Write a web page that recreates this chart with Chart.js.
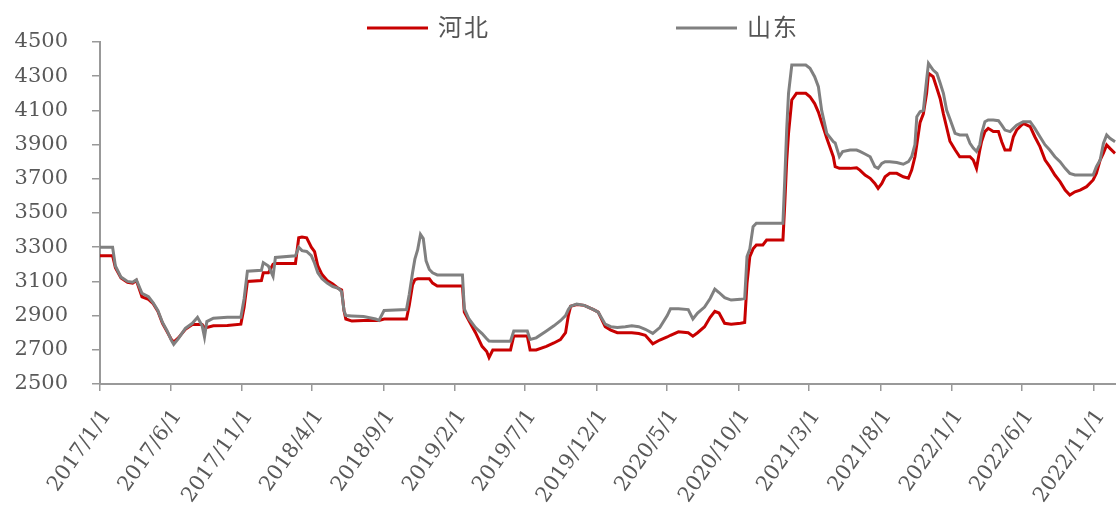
<!DOCTYPE html>
<html>
<head>
<meta charset="utf-8">
<script src="https://cdn.jsdelivr.net/npm/chart.js@4.4.0/dist/chart.umd.min.js"></script>
<style>
  html, body { margin: 0; padding: 0; background: #fff; }
  #wrap { width: 1116px; height: 515px; position: relative; }
</style>
</head>
<body>
<div id="wrap"><canvas id="chart"></canvas></div>
<script>
// price dates (irregular)
const dates = [
  '2017-01-01','2017-01-28','2017-02-03','2017-02-15','2017-03-01','2017-03-12','2017-03-20','2017-04-01','2017-04-15','2017-04-25',
  '2017-05-05','2017-05-15','2017-05-25','2017-06-03','2017-06-08','2017-06-18','2017-07-03','2017-07-18','2017-07-29','2017-08-08',
  '2017-08-13','2017-08-18','2017-09-01','2017-10-01','2017-10-30','2017-11-06','2017-11-13','2017-12-13','2017-12-17','2017-12-28',
  '2018-01-07','2018-01-12','2018-02-24','2018-03-03','2018-03-10','2018-03-20','2018-03-30','2018-04-06','2018-04-13','2018-04-22',
  '2018-05-03','2018-05-15','2018-05-27','2018-06-03','2018-06-08','2018-06-12','2018-06-25','2018-07-20','2018-08-15','2018-08-22',
  '2018-09-02','2018-10-20','2018-10-26','2018-11-02','2018-11-07','2018-11-13','2018-11-19','2018-11-25','2018-12-01','2018-12-08',
  '2018-12-15','2018-12-25','2019-02-17','2019-02-21','2019-03-03','2019-03-17','2019-03-31','2019-04-10','2019-04-15','2019-04-23',
  '2019-05-31','2019-06-07','2019-07-06','2019-07-12','2019-07-25','2019-08-16','2019-09-01','2019-09-15','2019-09-26','2019-10-02',
  '2019-10-07','2019-10-20','2019-11-05','2019-11-25','2019-12-05','2019-12-20','2020-01-01','2020-01-15','2020-02-01','2020-02-15',
  '2020-03-01','2020-03-15','2020-03-31','2020-04-15','2020-05-01','2020-05-08','2020-05-25','2020-06-15','2020-06-25','2020-07-05',
  '2020-07-20','2020-08-01','2020-08-11','2020-08-20','2020-09-01','2020-09-15','2020-10-05','2020-10-14','2020-10-19','2020-10-25',
  '2020-11-01','2020-11-08','2020-11-22','2020-11-30','2021-01-04','2021-01-08','2021-01-12','2021-01-16','2021-01-23','2021-02-02',
  '2021-02-22','2021-03-03','2021-03-13','2021-03-21','2021-03-28','2021-04-08','2021-04-22','2021-04-26','2021-05-05','2021-05-12',
  '2021-05-28','2021-06-11','2021-06-18','2021-06-29','2021-07-10','2021-07-20','2021-07-27','2021-08-04','2021-08-11','2021-08-21',
  '2021-09-05','2021-09-19','2021-09-30','2021-10-07','2021-10-14','2021-10-18','2021-10-25','2021-11-01','2021-11-08','2021-11-12',
  '2021-11-22','2021-11-30','2021-12-07','2021-12-14','2021-12-21','2021-12-28','2022-01-08','2022-01-18','2022-02-02','2022-02-09',
  '2022-02-16','2022-02-23','2022-03-02','2022-03-06','2022-03-13','2022-03-20','2022-03-31','2022-04-11','2022-04-18','2022-04-25',
  '2022-05-06','2022-05-13','2022-05-20','2022-06-03','2022-06-18','2022-06-28','2022-07-09','2022-07-20','2022-07-30','2022-08-10',
  '2022-08-21','2022-09-01','2022-09-11','2022-09-22','2022-10-03','2022-10-17','2022-10-31','2022-11-07','2022-11-15','2022-11-22',
  '2022-11-29','2022-12-06','2022-12-17'
];

// 河北
const hebei = [
  3250,3250,3180,3120,3095,3090,3105,3010,2995,2970,
  2925,2855,2805,2760,2745,2770,2820,2848,2848,2848,
  2830,2830,2840,2842,2850,2950,3100,3105,3150,3150,
  3200,3205,3205,3355,3360,3355,3300,3274,3190,3140,
  3105,3085,3059,3050,2930,2880,2868,2872,2872,2872,
  2880,2880,2960,3080,3110,3115,3115,3115,3115,3115,
  3090,3073,3073,2920,2870,2800,2720,2690,2655,2699,
  2699,2781,2781,2699,2699,2720,2740,2760,2800,2900,
  2955,2965,2960,2935,2920,2835,2815,2800,2800,2800,
  2795,2785,2735,2757,2775,2785,2805,2800,2780,2800,
  2835,2890,2925,2915,2855,2850,2855,2860,3089,3245,
  3290,3313,3313,3342,3342,3556,3800,3966,4161,4200,
  4200,4180,4140,4090,4030,3937,3829,3771,3761,3761,
  3761,3765,3751,3722,3703,3673,3644,3673,3712,3732,
  3732,3712,3703,3751,3829,3900,4030,4080,4200,4317,
  4297,4230,4170,4080,4000,3920,3870,3829,3829,3829,
  3810,3761,3868,3920,3976,3995,3976,3976,3917,3868,
  3868,3946,3985,4024,4005,3946,3888,3810,3771,3722,
  3683,3634,3605,3624,3634,3654,3693,3732,3810,3850,
  3898,3878,3849
];

// 山东
const shandong = [
  3300,3300,3190,3125,3100,3095,3110,3030,3010,2975,
  2930,2860,2810,2755,2732,2765,2825,2855,2890,2840,
  2775,2865,2885,2890,2890,3000,3160,3165,3210,3190,
  3130,3240,3250,3300,3280,3275,3250,3206,3150,3115,
  3090,3070,3059,3040,2930,2900,2898,2895,2880,2872,
  2930,2935,3025,3150,3230,3285,3375,3350,3220,3170,
  3150,3138,3137,2940,2880,2830,2795,2765,2751,2750,
  2750,2810,2810,2760,2770,2810,2840,2870,2900,2935,
  2955,2968,2960,2935,2920,2850,2835,2830,2835,2840,
  2835,2820,2796,2830,2900,2940,2940,2935,2880,2915,
  2950,3000,3055,3035,3005,2991,2995,3000,3245,3290,
  3420,3440,3440,3440,3440,3700,3985,4200,4365,4365,
  4365,4346,4297,4239,4100,3966,3917,3910,3830,3859,
  3868,3868,3860,3845,3829,3771,3761,3790,3800,3800,
  3795,3785,3800,3830,3900,4063,4092,4100,4278,4375,
  4336,4317,4260,4200,4100,4050,3966,3956,3956,3907,
  3880,3860,3900,3966,4034,4044,4044,4040,4014,3985,
  3976,3995,4014,4034,4034,3995,3946,3898,3868,3829,
  3800,3761,3732,3722,3722,3722,3722,3771,3810,3907,
  3956,3937,3917
];

const tickLabels = ['2017/1/1','2017/6/1','2017/11/1','2018/4/1','2018/9/1','2019/2/1','2019/7/1',
  '2019/12/1','2020/5/1','2020/10/1','2021/3/1','2021/8/1','2022/1/1','2022/6/1','2022/11/1'];

function dayOf(s) {
  const p = s.split(/[-\/]/).map(Number);
  return (Date.UTC(p[0], p[1] - 1, p[2]) - Date.UTC(2017, 0, 1)) / 86400000;
}
const tickDays = tickLabels.map(dayOf);
const serif = '"DejaVu Serif", "Liberation Serif", serif';

// legend drawn across the top like the original
const topLegend = {
  id: 'topLegend',
  afterDraw(chart) {
    const ctx = chart.ctx;
    const starts = [367, 676];
    ctx.save();
    chart.data.datasets.forEach((ds, i) => {
      const x = starts[i];
      ctx.strokeStyle = ds.borderColor;
      ctx.lineWidth = 3;
      ctx.beginPath();
      ctx.moveTo(x, 28);
      ctx.lineTo(x + 61, 28);
      ctx.stroke();
      ctx.fillStyle = '#555';
      ctx.font = '24px "Noto Sans CJK SC"';
      ctx.letterSpacing = '2px';
      ctx.textBaseline = 'middle';
      ctx.fillText(ds.label, x + 71, 27);
    });
    ctx.restore();
  }
};

const ctx = document.getElementById('chart').getContext('2d');
new Chart(ctx, {
  type: 'line',
  data: {
    datasets: [{
      label: '河北',
      data: dates.map((d, i) => ({ x: dayOf(d), y: hebei[i] })),
      borderColor: '#c80000',
      borderWidth: 3,
      pointRadius: 0,
      tension: 0,
      order: 1
    }, {
      label: '山东',
      data: dates.map((d, i) => ({ x: dayOf(d), y: shandong[i] })),
      borderColor: '#808080',
      borderWidth: 3,
      pointRadius: 0,
      tension: 0,
      order: 0
    }]
  },
  options: {
    responsive: true,
    maintainAspectRatio: false,
    animation: false,
    layout: { padding: { top: 42, left: 0, right: 0, bottom: 0 } },
    plugins: {
      legend: { display: false },
      tooltip: { enabled: false }
    },
    scales: {
      x: {
        type: 'linear',
        min: 0,
        max: 2178,
        afterBuildTicks: s => { s.ticks = tickDays.map(v => ({ value: v })); },
        afterFit: s => { s.height = 131; s.paddingRight = 0; s.paddingLeft = 0; },
        grid: { drawOnChartArea: false, color: '#999', tickLength: 7, lineWidth: 1.5 },
        border: { color: '#999', width: 2 },
        ticks: {
          autoSkip: false,
          minRotation: 55,
          maxRotation: 55,
          padding: 14,
          labelOffset: 7,
          color: '#595959',
          font: { family: serif, size: 21 },
          callback: (v, i) => tickLabels[i]
        }
      },
      y: {
        min: 2500,
        max: 4500,
        afterFit: s => { s.width = 100; },
        grid: { drawOnChartArea: false, color: '#999', tickLength: 8, lineWidth: 1.5 },
        border: { color: '#999', width: 2 },
        ticks: {
          stepSize: 200,
          padding: 24,
          color: '#595959',
          font: { family: serif, size: 21 },
          callback: v => String(v)
        }
      }
    }
  },
  plugins: [topLegend]
});
</script>
</body>
</html>
